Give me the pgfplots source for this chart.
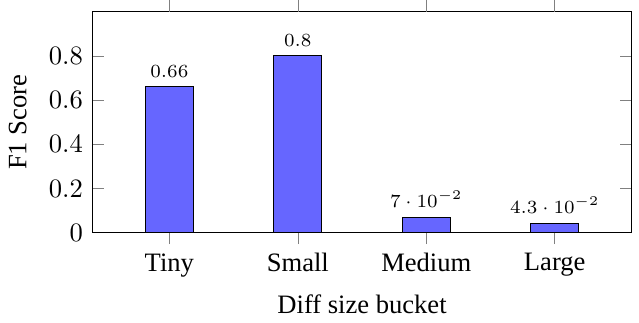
\documentclass[border=0pt]{standalone}
\usepackage{pgfplots}
\pgfplotsset{compat=1.18}
\usepackage{fontspec}
\setmainfont{Liberation Serif}
\begin{document}
\begin{tikzpicture}
\begin{axis}[
  scale only axis, width=203pt, height=83.2pt,
  ybar, bar width=18pt,
  xmin=-0.6, xmax=3.6, ymin=0, ymax=1,
  xtick={0,1,2,3}, xticklabels={Tiny,Small,Medium,Large},
  major x tick style={draw=none},
  ytick={0,0.2,0.4,0.6,0.8},
  ylabel={F1 Score}, xlabel={Diff size bucket},
  ylabel style={yshift=1.5pt},
  nodes near coords,
  every node near coord/.append style={font=\scriptsize},
]
\addplot[draw=black, fill=blue!60] coordinates {(0,0.66) (1,0.8) (2,0.07) (3,0.043)};
\end{axis}
\begin{axis}[
  scale only axis, width=203pt, height=83.2pt,
  xmin=-0.6, xmax=3.6, ymin=0, ymax=1,
  xtick={0,1,2,3}, xticklabels={}, ytick=\empty,
  tick align=outside, axis line style={draw=none},
]
\end{axis}
\path (203pt,0) ++(2.7pt,0);
\end{tikzpicture}
\end{document}
